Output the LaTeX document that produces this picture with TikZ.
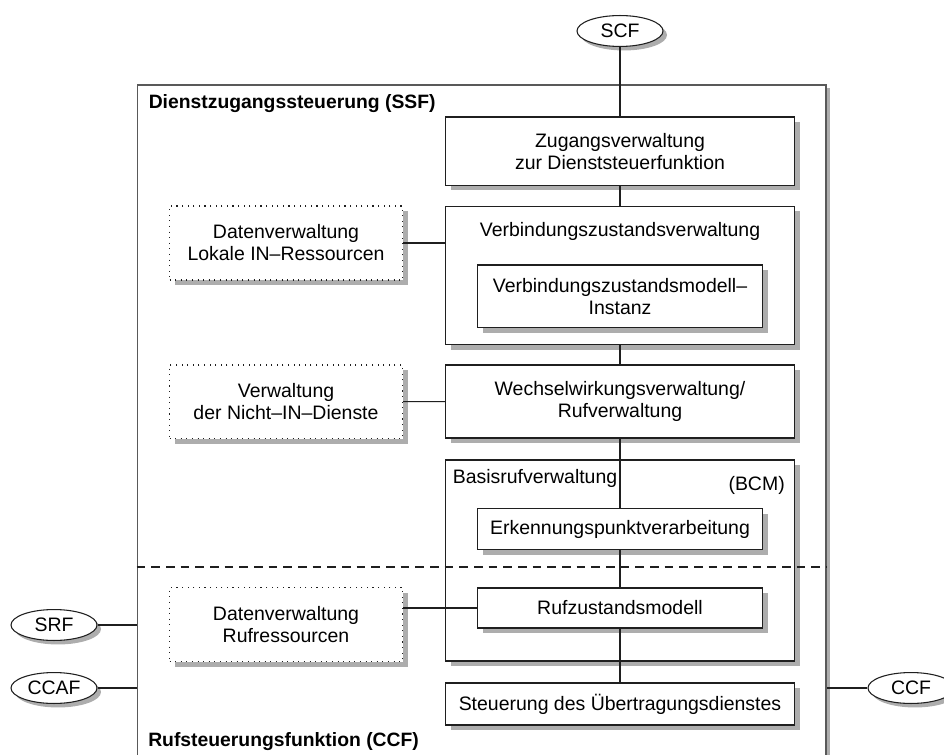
\documentclass[tikz,border=0pt]{standalone}
\usepackage{fontspec}
\setmainfont{Liberation Sans}
\usetikzlibrary{shapes.geometric,fit}
\definecolor{shadowgray}{gray}{0.68}
\definecolor{edge}{gray}{0.12}
\definecolor{frameedge}{gray}{0.35}
% a box with a cast shadow: name, style, upper left corner, lower right corner
\newcommand\shadowbox[4]{%
  \fill[shadowgray] ([shift={(5,5)}]#3) rectangle ([shift={(5,5)}]#4);
  \node[#2, fit={(#3) (#4)}] (#1) {};}
% an oval with a cast shadow: name, centre, text
\newcommand\shadowoval[3]{%
  \fill[shadowgray] ([shift={(4,4)}]#2) ellipse [x radius=32.25pt, y radius=11.6pt];
  \node[oval] (#1) at (#2) {#3};}
\begin{document}
\begin{tikzpicture}[x=0.75pt,y=-0.75pt,
  font=\fontsize{14.6pt}{16.5pt}\selectfont,
  framebox/.style={draw=frameedge,line width=1.2pt,fill=white,inner sep=0pt},
  funcbox/.style={draw=edge,line width=0.8pt,fill=white,inner sep=0pt},
  databox/.style={draw=edge,line width=0.9pt,dash pattern=on 0.8pt off 3.4pt,fill=white,inner sep=0pt},
  oval/.style={ellipse,draw=edge,line width=0.8pt,fill=white,inner sep=0pt,
    minimum width=64.5pt,minimum height=23.2pt},
  plain/.style={inner sep=0pt,align=center},
  heading/.style={inner sep=0pt,font=\fontsize{14.5pt}{16.5pt}\selectfont\bfseries},
  wire/.style={draw=edge,line width=0.8pt},
  divider/.style={draw=edge,line width=0.8pt,dash pattern=on 6.5pt off 4.5pt}]

\useasboundingbox (0,0) rectangle (944,755);
\clip (0,0) rectangle (944,755);

% outer frame: service switching function above, call control function below
\fill[shadowgray] (800,88) rectangle (829.5,800);
\node[framebox, fit={(137.5,85) (826,800)}] (ssf) {};
\node[heading, anchor=west] (ssftitle) at (148.5,104) {Dienstzugangssteuerung (SSF)};
\node[heading, anchor=west] (ccftitle) at (148,742) {Rufsteuerungsfunktion (CCF)};

% external functional entities
\shadowoval{scf}{620,31}{SCF}
\shadowoval{srf}{54,625}{SRF}
\shadowoval{ccaf}{54,688}{CCAF}
\shadowoval{ccf}{911,688}{CCF}

% main chain of functional blocks
\shadowbox{zug}{funcbox}{445.5,117}{794.5,185.5}
\node[plain] (zugtext) at (zug.center) {Zugangsverwaltung\\zur Dienststeuerfunktion};
\shadowbox{vzv}{funcbox}{445.5,206.5}{794.5,344.5}
\node[plain] (vzvtext) at (620,231) {Verbindungszustandsverwaltung};
\shadowbox{vzmi}{funcbox}{477.5,265}{762.5,327.5}
\node[plain] (vzmitext) at (vzmi.center) {Verbindungszustandsmodell–\\Instanz};
\shadowbox{wwv}{funcbox}{445.5,365}{794.5,438}
\node[plain] (wwvtext) at (wwv.center) {Wechselwirkungsverwaltung/\\Rufverwaltung};

% basic call manager
\shadowbox{bcm}{funcbox}{445.5,460}{794.5,661}
\node[plain, anchor=west] (bcmname) at (452.5,478) {Basisrufverwaltung};
\node[plain, anchor=east] (bcmtag) at (785,485) {(BCM)};
\shadowbox{epv}{funcbox}{477.5,508.5}{762.5,549.5}
\node[plain] (epvtext) at (epv.center) {Erkennungspunktverarbeitung};
\shadowbox{rzm}{funcbox}{477.5,588}{762.5,628}
\node[plain] (rzmtext) at (rzm.center) {Rufzustandsmodell};

\shadowbox{stu}{funcbox}{445.5,683}{794.5,725}
\node[plain] (stutext) at (stu.center) {Steuerung des Übertragungsdienstes};

% data management blocks
\shadowbox{dlr}{databox}{169.5,206}{402.5,280}
\node[plain] (dlrtext) at (dlr.center) {Datenverwaltung\\Lokale IN–Ressourcen};
\shadowbox{vnd}{databox}{169.5,365}{402.5,438.5}
\node[plain] (vndtext) at (vnd.center) {Verwaltung\\der Nicht–IN–Dienste};
\shadowbox{drr}{databox}{169.5,587.5}{402.5,661.5}
\node[plain] (drrtext) at (drr.center) {Datenverwaltung\\Rufressourcen};

% connections
\draw[wire] (scf) -- (zug);
\draw[wire] (zug) -- (vzv);
\draw[wire] (vzv) -- (wwv);
\draw[wire] (wwv.south) -- (epv.north);
\draw[wire] (epv) -- (rzm);
\draw[wire] (rzm.south) -- (stu.north);
\draw[wire] (dlr.east) -- (dlr.east -| vzv.west);
\draw[wire] (vnd) -- (wwv);
\draw[wire] (rzm.west) -- (rzm.west -| drr.east);
\draw[wire] (srf) -- (srf -| ssf.west);
\draw[wire] (ccaf) -- (ccaf -| ssf.west);
\draw[wire] (ccf) -- (ccf -| ssf.east);

% boundary between SSF and CCF
\coordinate (cut) at (0,567);
\draw[divider] (ssf.west |- cut) -- (ssf.east |- cut);

\end{tikzpicture}
\end{document}
